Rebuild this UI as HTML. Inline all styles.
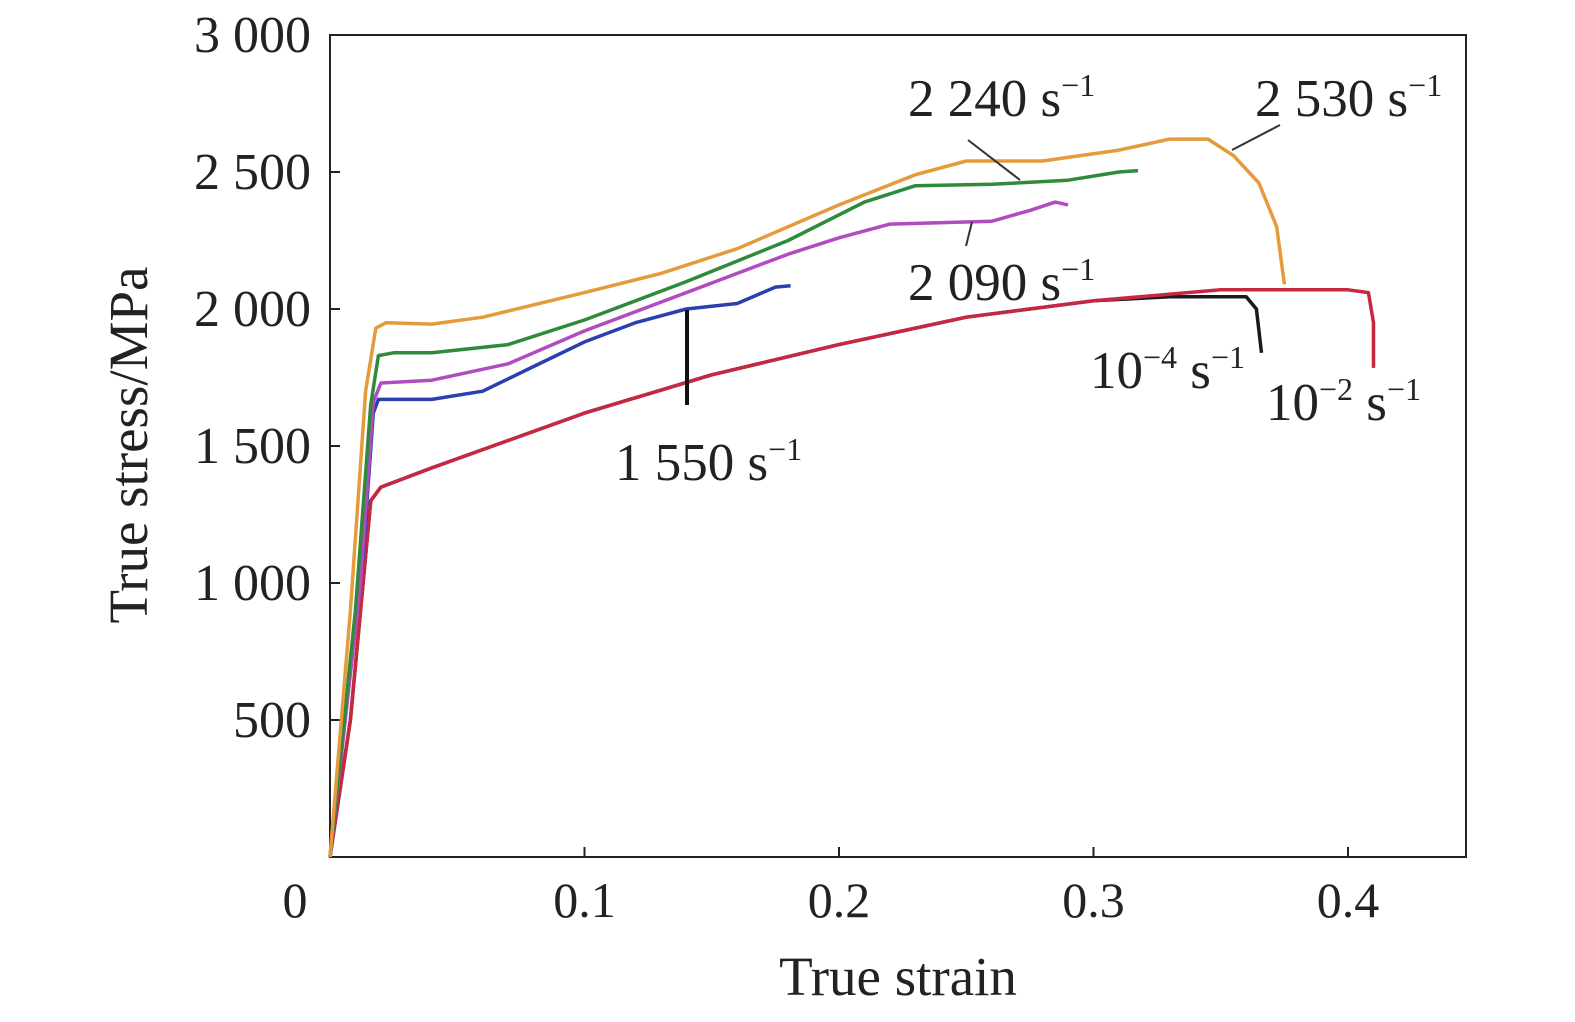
<!DOCTYPE html>
<html><head><meta charset="utf-8"><style>
html,body{margin:0;padding:0;background:#fff;}
svg{display:block;}
text{font-family:"Liberation Serif",serif;fill:#222;}
</style></head><body>
<svg id="chart" width="1575" height="1022" viewBox="0 0 1575 1022">
<rect x="330" y="35" width="1136" height="822" fill="none" stroke="#222" stroke-width="2"/>
<g id="ticks"></g><g id="series"></g>
<text x="898" y="995" font-size="55" text-anchor="middle">True strain</text>
<text transform="translate(147,445) rotate(-90)" font-size="55" text-anchor="middle">True stress/MPa</text>
</svg>
<script>
const xTicks=[0.1,0.2,0.3,0.4];
const xTickLabels=["0.1","0.2","0.3","0.4"];
const yTicks=[500,1000,1500,2000,2500,3000];
const yTickLabels=["500","1 000","1 500","2 000","2 500","3 000"];
const seriesNames=["10^-4","10^-2","1550","2090","2240","2530"];
const seriesColors=["#1a1a1a","#c8283f","#2a3fb0","#b04cc0","#2f8a3a","#e59a3c"];
const s_1e4_x=[0,0.008,0.013,0.016,0.02,0.04,0.1,0.15,0.2,0.25,0.3,0.33,0.36,0.364,0.366];
const s_1e4_y=[0,500,1000,1300,1350,1420,1620,1760,1870,1970,2030,2045,2045,2000,1840];
const s_1e2_x=[0,0.008,0.013,0.016,0.02,0.04,0.1,0.15,0.2,0.25,0.3,0.35,0.4,0.408,0.41,0.41];
const s_1e2_y=[0,500,1000,1300,1350,1420,1620,1760,1870,1970,2030,2070,2070,2060,1950,1785];
const s_1550_x=[0,0.013,0.017,0.019,0.04,0.06,0.08,0.1,0.12,0.14,0.16,0.175,0.181];
const s_1550_y=[0,1100,1620,1670,1670,1700,1790,1880,1950,2000,2020,2080,2085];
const s_2090_x=[0,0.012,0.017,0.02,0.04,0.07,0.1,0.14,0.18,0.2,0.22,0.26,0.275,0.285,0.29];
const s_2090_y=[0,1000,1660,1730,1740,1800,1920,2060,2200,2260,2310,2320,2360,2390,2380];
const s_2240_x=[0,0.01,0.016,0.019,0.025,0.04,0.07,0.1,0.14,0.18,0.21,0.23,0.26,0.29,0.31,0.3175];
const s_2240_y=[0,900,1650,1830,1840,1840,1870,1960,2100,2250,2390,2450,2455,2470,2500,2505];
const s_2530_x=[0,0.008,0.014,0.018,0.022,0.04,0.06,0.1,0.13,0.16,0.2,0.23,0.25,0.28,0.31,0.33,0.345,0.355,0.365,0.372,0.375];
const s_2530_y=[0,900,1700,1930,1950,1945,1970,2060,2130,2220,2380,2490,2540,2540,2580,2620,2620,2560,2460,2300,2090];
const allX=[s_1e4_x,s_1e2_x,s_1550_x,s_2090_x,s_2240_x,s_2530_x];
const allY=[s_1e4_y,s_1e2_y,s_1550_y,s_2090_y,s_2240_y,s_2530_y];
const NS="http://www.w3.org/2000/svg";
function X(v){return 330+v*2545;}
function Y(v){return 857-v*0.274;}
function mk(tag,attrs,parent){const e=document.createElementNS(NS,tag);for(const k in attrs)e.setAttribute(k,attrs[k]);parent.appendChild(e);return e;}
const tg=document.getElementById('ticks');
xTicks.forEach((t,i)=>{
 const l=mk('line',{x1:X(t),x2:X(t),y1:857,y2:847,stroke:'#222','stroke-width':2},tg);
 
 
 const tx=mk('text',{x:X(t),y:917,'font-size':50,'text-anchor':'middle'},tg);tx.textContent=xTickLabels[i];
 
 
});
const z=mk('text',{x:295,y:917,'font-size':50,'text-anchor':'middle'},tg);z.textContent="0";


yTicks.forEach((t,i)=>{
 const l=mk('line',{x1:330,x2:340,y1:Y(t),y2:Y(t),stroke:'#222','stroke-width':2},tg);
 
 
 const tx=mk('text',{x:311,y:Y(t)+17,'font-size':52,'text-anchor':'end'},tg);tx.textContent=yTickLabels[i];
 
 
});
const sg=document.getElementById('series');
allX.forEach((xs,i)=>{
 const d=xs.map((x,j)=>(j?'L':'M')+X(x).toFixed(1)+','+Y(allY[i][j]).toFixed(1)).join(' ');
 const p=mk('path',{d:d,fill:'none',stroke:seriesColors[i],'stroke-width':3.5,'stroke-linejoin':'round'},sg);
 
 
});
</script>
<svg style="position:absolute;left:0;top:0" width="1575" height="1022">
<line x1="687" y1="310" x2="687" y2="405" stroke="#111" stroke-width="4"/>
<line x1="968" y1="140" x2="1020" y2="180" stroke="#333" stroke-width="2"/>
<line x1="1280" y1="125" x2="1232" y2="150" stroke="#333" stroke-width="2"/>
<line x1="972" y1="222" x2="966" y2="246" stroke="#333" stroke-width="2"/>
<g font-size="53" font-family="Liberation Serif,serif" fill="#222">
<text x="908" y="116">2 240 s<tspan font-size="32" dy="-20">−1</tspan></text>
<text x="1255" y="116">2 530 s<tspan font-size="32" dy="-20">−1</tspan></text>
<text x="908" y="300">2 090 s<tspan font-size="32" dy="-20">−1</tspan></text>
<text x="615" y="480">1 550 s<tspan font-size="32" dy="-20">−1</tspan></text>
<text x="1090" y="388">10<tspan font-size="32" dy="-20">−4</tspan><tspan dy="20"> s</tspan><tspan font-size="32" dy="-20">−1</tspan></text>
<text x="1266" y="420">10<tspan font-size="32" dy="-20">−2</tspan><tspan dy="20"> s</tspan><tspan font-size="32" dy="-20">−1</tspan></text>
</g>
</svg>
</body></html>
